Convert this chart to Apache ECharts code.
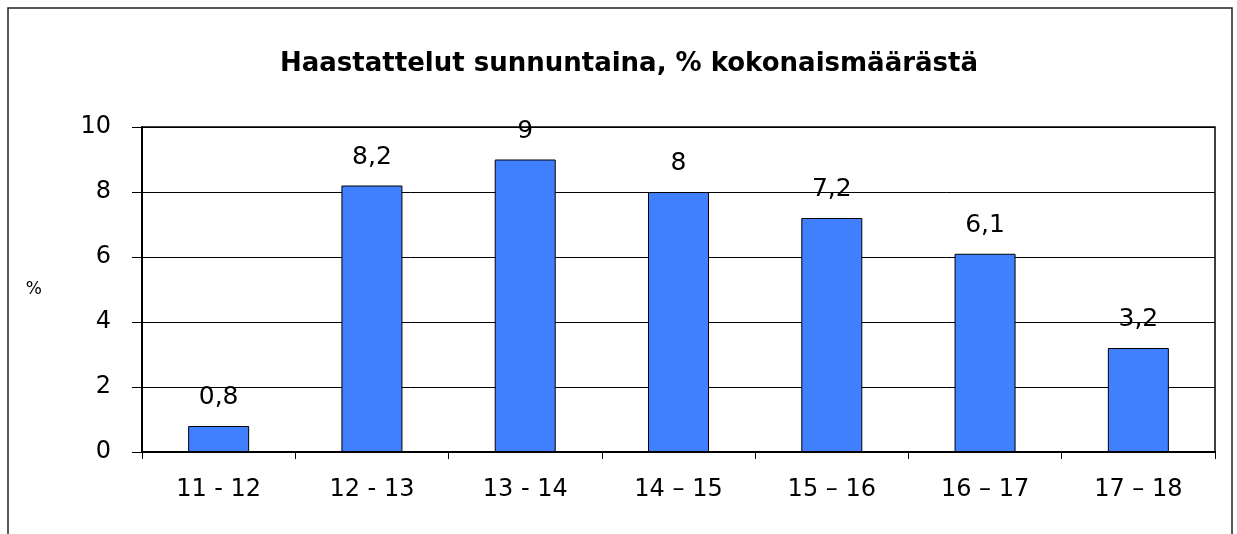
<!DOCTYPE html>
<html>
<head>
<meta charset="utf-8">
<script src="https://cdn.jsdelivr.net/npm/echarts@6/dist/echarts.min.js"></script>
<style>
  html, body { margin: 0; padding: 0; background: #fff; }
  #chart { width: 1237px; height: 534px; }
</style>
</head>
<body>
<div id="chart"></div>
<script>
// time slots (hours) and share of all interviews, %
const hours = ['11 - 12', '12 - 13', '13 - 14', '14 – 15', '15 – 16', '16 – 17', '17 – 18'];
const share = [0.8, 8.2, 9, 8, 7.2, 6.1, 3.2];
const yTicks = { min: 0, max: 10, step: 2 };

const font = '"DejaVu Sans", Verdana, sans-serif';
const chart = echarts.init(document.getElementById('chart'), null, { renderer: 'canvas' });

chart.setOption({
  backgroundColor: '#fff',
  animation: false,
  graphic: [
    {
      type: 'rect',
      shape: { x: 8, y: 8, width: 1224, height: 560 },
      style: { fill: 'none', stroke: '#222', lineWidth: 1.5 },
      silent: true
    },
    {
      // box around the plot area (top + right)
      type: 'rect',
      shape: { x: 142, y: 127, width: 1073, height: 325 },
      style: { fill: 'none', stroke: '#000', lineWidth: 1.5 },
      silent: true,
      z: 10
    }
  ],
  title: {
    text: 'Haastattelut sunnuntaina, % kokonaismäärästä',
    left: 624,
    textAlign: 'center',
    top: 46,
    textStyle: { fontFamily: font, fontSize: 26, fontWeight: 'bold', color: '#000' }
  },
  grid: { left: 142, right: 22, top: 127, bottom: 82, containLabel: false },
  xAxis: {
    type: 'category',
    data: hours,
    axisLine: { lineStyle: { color: '#000', width: 2 } },
    axisTick: { show: true, length: 7, lineStyle: { color: '#000' } },
    axisLabel: { color: '#000', fontFamily: font, fontSize: 24, margin: 26 },
    splitLine: { show: false }
  },
  yAxis: {
    type: 'value',
    min: yTicks.min,
    max: yTicks.max,
    interval: yTicks.step,
    name: '%',
    nameLocation: 'middle',
    nameRotate: 0,
    nameGap: 100,
    nameTextStyle: { color: '#000', fontFamily: font, fontSize: 17 },
    axisLine: { show: true, lineStyle: { color: '#000', width: 2 } },
    axisTick: { show: true, length: 10, lineStyle: { color: '#000' } },
    axisLabel: { color: '#000', fontFamily: font, fontSize: 24, margin: 31 },
    splitLine: { show: true, lineStyle: { color: '#000', width: 1 } }
  },
  series: [{
    type: 'bar',
    data: share,
    barWidth: 61,
    itemStyle: { color: '#4080ff', borderColor: '#000', borderWidth: 1 },
    label: {
      show: true,
      position: 'top',
      distance: 16,
      color: '#000',
      fontFamily: font,
      fontSize: 25,
      formatter: p => String(p.value).replace('.', ',')
    }
  }]
});
</script>
</body>
</html>
